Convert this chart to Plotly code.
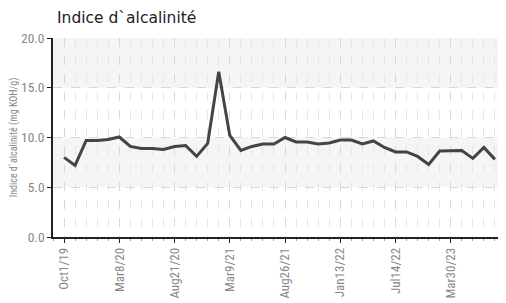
import plotly.graph_objects as go

values = [8.0, 7.2, 9.7, 9.7, 9.8, 10.05, 9.1, 8.9, 8.9, 8.8,
          9.1, 9.2, 8.1, 9.4, 16.6, 10.2, 8.7, 9.1, 9.35, 9.35,
          10.0, 9.55, 9.55, 9.35, 9.45, 9.75, 9.75, 9.35, 9.65, 9.0,
          8.55, 8.55, 8.1, 7.3, 8.65, 8.65, 8.7, 7.9, 9.0, 7.8]
tick_positions = [0, 5, 10, 15, 20, 25, 30, 35]
tick_labels = ["Oct1/19", "Mar8/20", "Aug21/20", "Mar9/21", "Aug26/21", "Jan13/22", "Jul14/22", "Mar30/23"]
x_idx = list(range(len(values)))

fig = go.Figure()
fig.add_trace(go.Scatter(x=x_idx, y=values, mode="lines",
                         line=dict(color="#444444", width=3), hoverinfo="y"))

for y0, y1 in [(15, 20), (5, 10)]:
    fig.add_shape(type="rect", xref="paper", yref="y", x0=0, x1=1, y0=y0, y1=y1,
                  fillcolor="#f5f5f5", line_width=0, layer="below")

narrow = "Liberation Sans Narrow, Arial Narrow, Roboto Condensed, sans-serif"
W, H = 498, 295  # page body has an 8px margin
fig.update_layout(
    width=W, height=H,
    margin=dict(l=45, r=0, t=30, b=66, autoexpand=False),
    paper_bgcolor="white", plot_bgcolor="rgba(0,0,0,0)",
    showlegend=False,
    title=dict(text="Indice d`alcalinité", x=49/W, xanchor="left", y=1-10/H, yanchor="middle",
               font=dict(family="DejaVu Sans", size=15.5, color="#222222")),
    xaxis=dict(range=[-1, 40], tickmode="array", tickvals=tick_positions, ticktext=tick_labels,
               tickangle=-90, tickfont=dict(family=narrow, size=13, color="#888888"),
               showline=True, linecolor="#222222", linewidth=1.5,
               ticks="outside", ticklen=4, tickcolor="#222222", automargin=False,
               showgrid=True, gridcolor="#d8d8d8", griddash="dash", gridwidth=1,
               zeroline=False,
               minor=dict(dtick=1, tick0=0, showgrid=True, gridcolor="#e6e6e6", griddash="dash",
                          ticks="outside", ticklen=2, tickcolor="#aaaaaa")),
    yaxis=dict(range=[0, 20], tickvals=[0, 5, 10, 15, 20], tickformat=".1f",
               tickfont=dict(family=narrow, size=13.5, color="#888888"),
               title=dict(text="Indice d`alcalinité (mg KOH/g)", font=dict(family=narrow, size=10, color="#888888"), standoff=1),
               showline=True, linecolor="#222222", linewidth=1.5, automargin=False,
               ticks="outside", ticklen=4, tickcolor="#222222",
               showgrid=True, gridcolor="#d8d8d8", griddash="dash", zeroline=False),
)
fig.write_html("out.html")
